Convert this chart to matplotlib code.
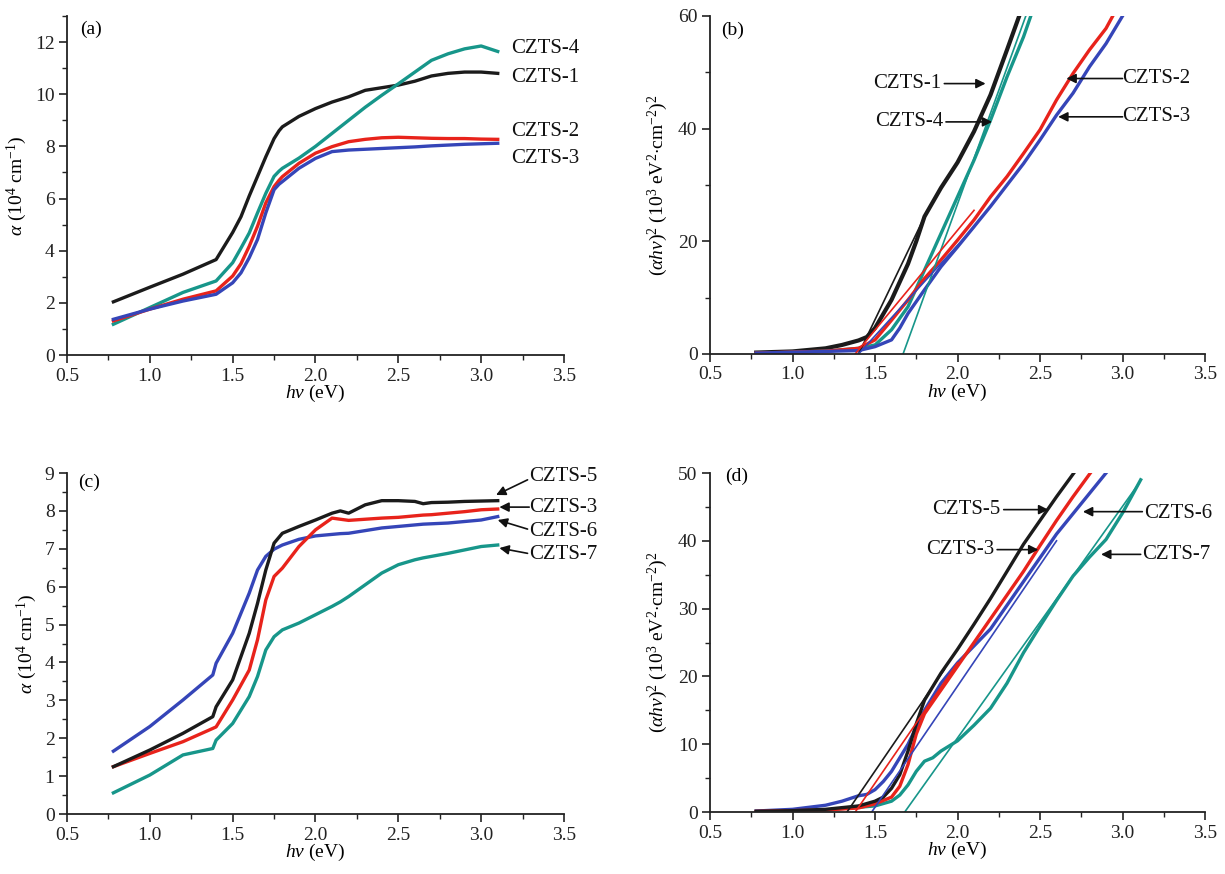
import matplotlib
matplotlib.use("Agg")
import matplotlib.pyplot as plt
from matplotlib.ticker import MultipleLocator

plt.rcParams['font.family'] = ['Liberation Serif', 'DejaVu Serif']
plt.rcParams['mathtext.fontset'] = 'custom'
plt.rcParams['mathtext.rm'] = 'Liberation Serif'
plt.rcParams['mathtext.it'] = 'Liberation Serif:italic'
plt.rcParams['mathtext.bf'] = 'Liberation Serif:bold'

C_BLACK = '#1b1b1b'
C_RED = '#e8231b'
C_BLUE = '#3545b8'
C_TEAL = '#17968a'

# ---------------- Panel (a): alpha vs hv ----------------
a_x = [0.78, 1.0, 1.2, 1.4, 1.5, 1.55, 1.6, 1.65, 1.7, 1.75, 1.78, 1.8, 1.9, 2.0, 2.1, 2.2, 2.3,
       2.4, 2.5, 2.6, 2.7, 2.8, 2.9, 3.0, 3.1]
a_czts1 = [2.04, 2.6, 3.1, 3.66, 4.7, 5.3, 6.1, 6.85, 7.6, 8.3, 8.6, 8.75, 9.15, 9.45, 9.7, 9.9, 10.15,
           10.25, 10.35, 10.5, 10.7, 10.8, 10.85, 10.85, 10.8]
a_czts4 = [1.18, 1.82, 2.4, 2.84, 3.54, 4.1, 4.68, 5.45, 6.2, 6.85, 7.05, 7.16, 7.55, 8.0, 8.5, 9.0, 9.5,
           9.96, 10.4, 10.85, 11.3, 11.55, 11.74, 11.85, 11.64]
a_czts2 = [1.31, 1.76, 2.14, 2.46, 3.03, 3.5, 4.17, 4.94, 5.83, 6.46, 6.7, 6.84, 7.35, 7.74, 7.99, 8.18,
           8.27, 8.33, 8.35, 8.33, 8.31, 8.3, 8.3, 8.28, 8.27]
a_czts3 = [1.37, 1.76, 2.07, 2.33, 2.77, 3.15, 3.73, 4.43, 5.45, 6.34, 6.55, 6.65, 7.16, 7.54, 7.8, 7.86,
           7.89, 7.92, 7.95, 7.98, 8.02, 8.05, 8.08, 8.1, 8.12]

# ---------------- Panel (b): (alpha hv)^2 vs hv ----------------
b_x1 = [0.78, 1.0, 1.2, 1.3, 1.4, 1.45, 1.5, 1.6, 1.7, 1.75, 1.8, 1.9, 2.0, 2.1, 2.2, 2.3, 2.38]
b_czts1 = [0.25, 0.45, 1.0, 1.6, 2.4, 3.0, 4.6, 9.6, 16.0, 20.0, 24.4, 29.5, 34.0, 39.5, 46.0, 54.0, 60.5]
b_x4 = [0.78, 1.2, 1.4, 1.5, 1.6, 1.7, 1.8, 1.9, 2.0, 2.1, 2.2, 2.3, 2.4, 2.45]
b_czts4 = [0.1, 0.5, 1.0, 1.6, 4.3, 8.4, 14.9, 21.4, 27.9, 34.4, 41.5, 49.2, 56.3, 60.5]
b_x2 = [0.78, 1.2, 1.4, 1.5, 1.6, 1.7, 1.8, 1.9, 2.0, 2.1, 2.2, 2.3, 2.4, 2.5, 2.6, 2.7, 2.8, 2.9, 2.95]
b_czts2 = [0.15, 0.5, 1.0, 2.5, 6.0, 9.6, 13.4, 16.7, 20.2, 23.8, 27.9, 31.5, 35.6, 39.8, 45.1, 49.8,
           54.0, 57.8, 60.5]
b_x3 = [0.78, 1.4, 1.5, 1.6, 1.65, 1.7, 1.8, 1.9, 2.0, 2.1, 2.2, 2.3, 2.4, 2.5, 2.6, 2.7, 2.8, 2.9, 3.0]
b_czts3 = [0.15, 0.6, 1.3, 2.5, 4.6, 7.2, 11.4, 15.5, 19.0, 22.6, 26.2, 30.0, 33.8, 38.0, 42.4, 46.3,
           51.0, 55.1, 60.0]
# linear fits (tangents): [x_start, x_end], [y_start, y_end]
b_fit1 = ([1.40, 1.82], [0.0, 25.6])
b_fit4 = ([1.67, 2.42], [0.0, 60.5])
b_fit2 = ([1.38, 2.10], [0.0, 25.5])
b_fit3 = ([1.40, 2.10], [0.0, 22.5])

# ---------------- Panel (c): alpha vs hv ----------------
c_x = [0.78, 1.0, 1.2, 1.38, 1.4, 1.5, 1.6, 1.65, 1.7, 1.75, 1.8, 1.9, 2.0, 2.1, 2.15, 2.2, 2.3,
       2.4, 2.5, 2.6, 2.65, 2.7, 2.8, 2.9, 3.0, 3.1]
c_czts5 = [1.25, 1.69, 2.13, 2.57, 2.83, 3.54, 4.77, 5.56, 6.44, 7.15, 7.41, 7.59, 7.76, 7.94, 8.0, 7.94,
           8.16, 8.27, 8.27, 8.25, 8.19, 8.22, 8.23, 8.25, 8.26, 8.27]
c_czts3 = [1.25, 1.6, 1.91, 2.26, 2.3, 3.01, 3.8, 4.6, 5.65, 6.27, 6.49, 7.06, 7.5, 7.81, 7.78, 7.75,
           7.78, 7.81, 7.83, 7.87, 7.89, 7.9, 7.94, 7.98, 8.03, 8.05]
c_czts6 = [1.66, 2.31, 3.01, 3.67, 3.98, 4.77, 5.83, 6.44, 6.8, 6.99, 7.1, 7.25, 7.34, 7.38, 7.4, 7.41,
           7.48, 7.55, 7.59, 7.63, 7.65, 7.66, 7.68, 7.72, 7.76, 7.85]
c_czts7 = [0.56, 1.03, 1.56, 1.73, 1.95, 2.39, 3.1, 3.63, 4.33, 4.68, 4.86, 5.04, 5.26, 5.48, 5.6, 5.74,
           6.05, 6.36, 6.58, 6.71, 6.76, 6.8, 6.88, 6.97, 7.06, 7.1]

# ---------------- Panel (d): (alpha hv)^2 vs hv ----------------
d_x5 = [0.78, 1.0, 1.2, 1.4, 1.5, 1.55, 1.6, 1.65, 1.7, 1.75, 1.8, 1.9, 2.0, 2.1, 2.2, 2.3, 2.4, 2.5,
        2.6, 2.72]
d_czts5 = [0.1, 0.2, 0.4, 0.9, 1.6, 2.2, 3.5, 5.5, 9.0, 13.0, 16.5, 20.5, 24.0, 27.7, 31.5, 35.5,
           39.5, 43.0, 46.5, 50.5]
d_x3 = [0.78, 1.2, 1.4, 1.5, 1.6, 1.65, 1.7, 1.75, 1.8, 1.9, 2.0, 2.1, 2.2, 2.3, 2.4, 2.5, 2.6, 2.7, 2.82]
d_czts3 = [0.1, 0.3, 0.6, 1.2, 2.2, 3.8, 7.0, 11.5, 14.5, 18.0, 21.5, 25.0, 28.5, 32.0, 35.5, 39.3,
           43.0, 46.5, 50.5]
d_x6 = [0.78, 1.0, 1.2, 1.3, 1.4, 1.45, 1.5, 1.55, 1.6, 1.7, 1.8, 1.9, 2.0, 2.1, 2.2, 2.3, 2.4, 2.5,
        2.6, 2.7, 2.8, 2.9]
d_czts6 = [0.15, 0.4, 1.0, 1.6, 2.4, 2.6, 3.3, 4.5, 6.0, 10.0, 15.0, 19.0, 22.0, 24.5, 27.0, 30.5,
           34.0, 37.5, 41.0, 44.0, 47.0, 50.0]
d_x7 = [0.78, 1.2, 1.5, 1.6, 1.65, 1.7, 1.75, 1.8, 1.85, 1.9, 2.0, 2.1, 2.2, 2.3, 2.4, 2.5, 2.6, 2.7,
        2.8, 2.9, 3.0, 3.11]
d_czts7 = [0.1, 0.3, 0.9, 1.6, 2.5, 4.0, 6.0, 7.5, 8.0, 9.0, 10.5, 12.8, 15.3, 19.0, 23.5, 27.4,
           31.2, 34.8, 37.6, 40.2, 44.1, 49.0]
d_fit5 = ([1.33, 1.92], [0.0, 21.0])
d_fit3 = ([1.38, 2.00], [0.0, 22.0])
d_fit6 = ([1.48, 2.60], [0.0, 40.0])
d_fit7 = ([1.68, 3.10], [0.0, 48.5])

xticks = [0.5, 1.0, 1.5, 2.0, 2.5, 3.0, 3.5]

TICK_FS = 14
LABEL_FS = 14
ANN_FS = 15

fig = plt.figure(figsize=(12.25, 8.74), dpi=100)
ax_a = fig.add_axes([0.0547, 0.5938, 0.4057, 0.3879])
ax_b = fig.add_axes([0.5796, 0.5950, 0.4041, 0.3867])
ax_c = fig.add_axes([0.0547, 0.0686, 0.4057, 0.3902])
ax_d = fig.add_axes([0.5796, 0.0709, 0.4041, 0.3879])


def style(ax, ymax, ymajor, yminor):
    ax.set_xlim(0.5, 3.5)
    ax.set_ylim(0, ymax)
    ax.set_xticks(xticks)
    ax.xaxis.set_minor_locator(MultipleLocator(0.25))
    ax.yaxis.set_major_locator(MultipleLocator(ymajor))
    ax.yaxis.set_minor_locator(MultipleLocator(yminor))
    for s in ('top', 'right'):
        ax.spines[s].set_visible(False)
    for s in ('left', 'bottom'):
        ax.spines[s].set_linewidth(1.3)
        ax.spines[s].set_color('#222222')
    ax.tick_params(which='major', direction='out', length=6, width=1.2, labelsize=TICK_FS,
                   colors='#222222', pad=3)
    ax.tick_params(which='minor', direction='out', length=3.5, width=1.0, colors='#222222')
    ax.set_xlabel(r'$hv$ (eV)', fontsize=LABEL_FS, labelpad=-1)


def label_arrow(ax, text, tx, ty, tail, tip, ha='left'):
    ax.text(tx, ty, text, fontsize=ANN_FS, ha=ha, va='center', color='#111111', clip_on=False)
    if tail is not None:
        ax.annotate('', xy=tip, xytext=tail,
                    arrowprops=dict(arrowstyle='-|>', color='#111111', lw=1.2,
                                    mutation_scale=14, shrinkA=0, shrinkB=0),
                    annotation_clip=False)


# ---- (a)
ax = ax_a
style(ax, 13, 2, 1)
ax.set_yticks([0, 2, 4, 6, 8, 10, 12])
ax.plot(a_x, a_czts1, color=C_BLACK, lw=2.4)
ax.plot(a_x, a_czts4, color=C_TEAL, lw=2.4)
ax.plot(a_x, a_czts2, color=C_RED, lw=2.4)
ax.plot(a_x, a_czts3, color=C_BLUE, lw=2.4)
ax.set_ylabel(r'$\alpha$ (10$^4$ cm$^{-1}$)', fontsize=LABEL_FS, labelpad=4)
ax.text(0.58, 12.5, '(a)', fontsize=14, va='center')
label_arrow(ax, 'CZTS-4', 3.18, 11.74, None, None)
label_arrow(ax, 'CZTS-1', 3.18, 10.66, None, None)
label_arrow(ax, 'CZTS-2', 3.18, 8.59, None, None)
label_arrow(ax, 'CZTS-3', 3.18, 7.54, None, None)

# ---- (b)
ax = ax_b
style(ax, 60, 20, 10)
ax.plot(b_x1, b_czts1, color=C_BLACK, lw=3.0)
ax.plot(b_x4, b_czts4, color=C_TEAL, lw=2.4)
ax.plot(b_x2, b_czts2, color=C_RED, lw=2.4)
ax.plot(b_x3, b_czts3, color=C_BLUE, lw=2.4)
ax.plot(*b_fit1, color=C_BLACK, lw=1.2)
ax.plot(*b_fit4, color=C_TEAL, lw=1.2)
ax.plot(*b_fit2, color=C_RED, lw=1.2)
ax.plot(*b_fit3, color=C_BLUE, lw=1.2)
ax.set_ylabel(r'$(\alpha hv)^2$ (10$^3$ eV$^2$$\cdot$cm$^{-2}$)$^2$', fontsize=LABEL_FS, labelpad=6)
ax.text(0.57, 57.5, '(b)', fontsize=14, va='center')
label_arrow(ax, 'CZTS-1', 1.49, 48.0, (1.92, 48.0), (2.17, 48.0))
label_arrow(ax, 'CZTS-4', 1.50, 41.2, (1.93, 41.2), (2.21, 41.2))
label_arrow(ax, 'CZTS-2', 3.00, 48.9, (3.00, 48.9), (2.66, 48.9))
label_arrow(ax, 'CZTS-3', 3.00, 42.1, (3.00, 42.1), (2.61, 42.1))

# ---- (c)
ax = ax_c
style(ax, 9, 1, 0.5)
ax.plot(c_x, c_czts7, color=C_TEAL, lw=2.4)
ax.plot(c_x, c_czts6, color=C_BLUE, lw=2.4)
ax.plot(c_x, c_czts3, color=C_RED, lw=2.4)
ax.plot(c_x, c_czts5, color=C_BLACK, lw=2.4)
ax.set_ylabel(r'$\alpha$ (10$^4$ cm$^{-1}$)', fontsize=LABEL_FS, labelpad=4)
ax.text(0.57, 8.75, '(c)', fontsize=14, va='center')
label_arrow(ax, 'CZTS-5', 3.29, 8.91, (3.28, 8.82), (3.09, 8.42))
label_arrow(ax, 'CZTS-3', 3.29, 8.10, (3.29, 8.10), (3.11, 8.10))
label_arrow(ax, 'CZTS-6', 3.29, 7.46, (3.28, 7.52), (3.10, 7.76))
label_arrow(ax, 'CZTS-7', 3.29, 6.84, (3.28, 6.88), (3.11, 7.02))

# ---- (d)
ax = ax_d
style(ax, 50, 10, 5)
ax.plot(d_x7, d_czts7, color=C_TEAL, lw=2.4)
ax.plot(d_x6, d_czts6, color=C_BLUE, lw=2.4)
ax.plot(d_x3, d_czts3, color=C_RED, lw=2.4)
ax.plot(d_x5, d_czts5, color=C_BLACK, lw=2.4)
ax.plot(*d_fit5, color=C_BLACK, lw=1.2)
ax.plot(*d_fit3, color=C_RED, lw=1.2)
ax.plot(*d_fit6, color=C_BLUE, lw=1.2)
ax.plot(*d_fit7, color=C_TEAL, lw=1.2)
ax.set_ylabel(r'$(\alpha hv)^2$ (10$^3$ eV$^2$$\cdot$cm$^{-2}$)$^2$', fontsize=LABEL_FS, labelpad=6)
ax.text(0.59, 49.5, '(d)', fontsize=14, va='center')
label_arrow(ax, 'CZTS-5', 1.846, 44.6, (2.28, 44.6), (2.55, 44.6))
label_arrow(ax, 'CZTS-3', 1.81, 38.7, (2.24, 38.7), (2.49, 38.7))
label_arrow(ax, 'CZTS-6', 3.13, 44.1, (3.12, 44.3), (2.76, 44.3))
label_arrow(ax, 'CZTS-7', 3.12, 38.0, (3.11, 38.0), (2.87, 38.0))

fig.savefig('out.png', dpi=100)
